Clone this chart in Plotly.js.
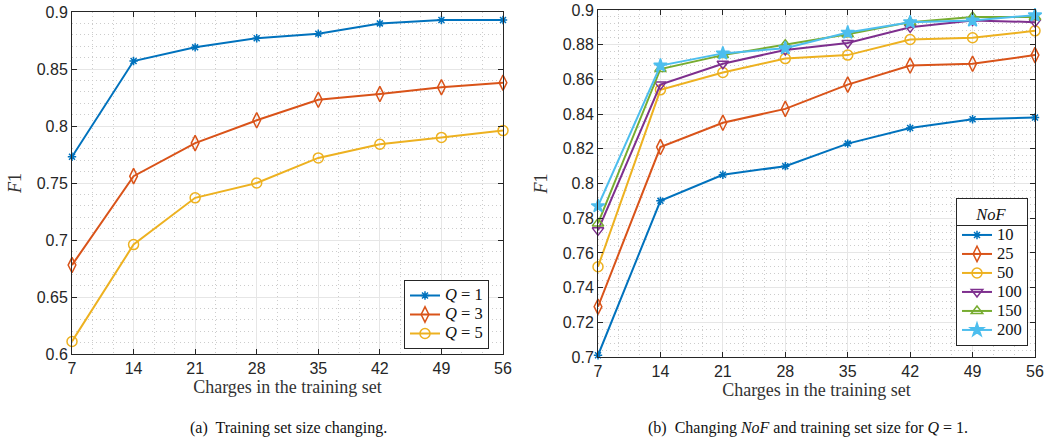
<!DOCTYPE html>
<html>
<head>
<meta charset="utf-8">
<script src="https://cdn.plot.ly/plotly-3.0.1.min.js"></script>
<style>
  html, body { margin: 0; padding: 0; background: #fff; }
  #chart { width: 1055px; height: 440px; }
</style>
</head>
<body>
<div id="chart"></div>
<script>
// ---- data ----
const charges = [7, 14, 21, 28, 35, 42, 49, 56];

// (a) training set size changing
const q1 = [0.773, 0.857, 0.869, 0.877, 0.881, 0.890, 0.893, 0.893];
const q3 = [0.678, 0.756, 0.785, 0.805, 0.823, 0.828, 0.834, 0.838];
const q5 = [0.611, 0.696, 0.737, 0.750, 0.772, 0.784, 0.790, 0.796];
const qLabels = ["<i>Q</i> = 1", "<i>Q</i> = 3", "<i>Q</i> = 5"];

// (b) changing NoF, Q = 1
const nof10  = [0.701, 0.790, 0.805, 0.810, 0.823, 0.832, 0.837, 0.838];
const nof25  = [0.729, 0.821, 0.835, 0.843, 0.857, 0.868, 0.869, 0.874];
const nof50  = [0.752, 0.854, 0.864, 0.872, 0.874, 0.883, 0.884, 0.888];
const nof100 = [0.773, 0.857, 0.869, 0.877, 0.881, 0.890, 0.894, 0.893];
const nof150 = [0.777, 0.866, 0.874, 0.880, 0.886, 0.893, 0.896, 0.896];
const nof200 = [0.787, 0.868, 0.875, 0.878, 0.887, 0.893, 0.894, 0.897];
const nofLabels = ["10", "25", "50", "100", "150", "200"];

const xTicks = ["7", "14", "21", "28", "35", "42", "49", "56"];

// ---- styling ----
const colors = ["#0072BD", "#D95319", "#EDB120", "#7E2F8E", "#77AC30", "#4DBEEE"];
const W = 1055, H = 440;
const serif = "Liberation Serif, DejaVu Serif, serif";
const sans = "Liberation Sans, Arial, sans-serif";
const dark = "#262626";
const big = s => '<span style="font-size:16.5px">' + s + '</span>';

function mk(sym, size, color) {
  return {symbol: sym, size: size, color: color, line: {color: color, width: 1.5}};
}
const markersA = [
  mk("asterisk-open", 7, colors[0]),
  mk("diamond-tall-open", 11, colors[1]),
  mk("circle-open", 10, colors[2])
];
const markersB = [
  mk("asterisk-open", 7, colors[0]),
  mk("diamond-tall-open", 11, colors[1]),
  mk("circle-open", 10, colors[2]),
  mk("triangle-down-open", 10, colors[3]),
  mk("triangle-up-open", 10, colors[4]),
  mk("star", 10, colors[5])
];

const traces = [];
[q1, q3, q5].forEach((ys, i) => {
  traces.push({x: charges, y: ys, name: big(qLabels[i]), type: "scatter", mode: "lines+markers",
    xaxis: "x", yaxis: "y", legend: "legend", cliponaxis: false,
    line: {color: colors[i], width: 2}, marker: markersA[i]});
});
[nof10, nof25, nof50, nof100, nof150, nof200].forEach((ys, i) => {
  traces.push({x: charges, y: ys, name: big(nofLabels[i]), type: "scatter", mode: "lines+markers",
    xaxis: "x2", yaxis: "y2", legend: "legend2", cliponaxis: false,
    line: {color: colors[i], width: 2}, marker: markersB[i]});
});

function px(x) { return x / W; }
function py(y) { return 1 - y / H; }

function xax(domain, anchor) {
  return {
    domain: domain, anchor: anchor, range: [7, 56], tickmode: "array",
    tickvals: charges, ticktext: xTicks,
    showline: true, linecolor: dark, linewidth: 1, mirror: "ticks",
    ticks: "inside", ticklen: 5, tickcolor: dark,
    showgrid: true, gridcolor: "#e6e6e6", gridwidth: 1, zeroline: false,
    tickfont: {family: sans, size: 16, color: dark},
    minor: {dtick: 7 / 3, tick0: 7, showgrid: true, gridcolor: "#cccccc", griddash: "1px,3px", gridwidth: 1},
    title: {text: "Charges in the training set", font: {family: serif, size: 18, color: "#333"}, standoff: 3}
  };
}
function yax(domain, anchor, range, dtick, minorDtick) {
  return {
    domain: domain, anchor: anchor, range: range, dtick: dtick, tick0: range[0],
    showline: true, linecolor: dark, linewidth: 1, mirror: "ticks",
    ticks: "inside", ticklen: 5, tickcolor: dark,
    showgrid: true, gridcolor: "#e6e6e6", gridwidth: 1, zeroline: false,
    tickfont: {family: sans, size: 16, color: dark},
    minor: {dtick: minorDtick, tick0: range[0], showgrid: true, gridcolor: "#cccccc", griddash: "1px,3px", gridwidth: 1},
    title: {text: "<i>F</i>1", font: {family: serif, size: 18, color: "#333"}, standoff: 10}
  };
}

const layout = {
  width: W, height: H,
  margin: {l: 0, r: 0, t: 0, b: 0},
  paper_bgcolor: "#fff", plot_bgcolor: "#fff",
  showlegend: true,
  xaxis: xax([px(72), px(503)], "y"),
  yaxis: yax([py(354), py(12)], "x", [0.6, 0.9], 0.05, 0.01),
  xaxis2: xax([px(598), px(1035)], "y2"),
  yaxis2: yax([py(357), py(10)], "x2", [0.7, 0.9], 0.02, 0.004),
  legend: {
    x: px(404), y: py(280), xanchor: "left", yanchor: "top",
    bgcolor: "#fff", bordercolor: dark, borderwidth: 1,
    font: {family: serif, size: 12, color: "#111"},
    tracegroupgap: 0, itemwidth: 30
  },
  legend2: {
    x: px(956), y: py(198), xanchor: "left", yanchor: "top",
    bgcolor: "#fff", bordercolor: dark, borderwidth: 1,
    font: {family: serif, size: 12, color: "#111"},
    title: {text: "<i>NoF</i>", side: "top center", font: {family: serif, size: 16.5, color: "#111"}},
    tracegroupgap: 0, itemwidth: 30
  },
  annotations: [
    {text: "(a)  Training set size changing.", xref: "paper", yref: "paper",
     x: px(288), y: py(428), xanchor: "center", yanchor: "middle", showarrow: false,
     font: {family: serif, size: 16, color: "#111"}},
    {text: "(b)  Changing <i>NoF</i> and training set size for <i>Q</i> = 1.", xref: "paper", yref: "paper",
     x: px(808), y: py(428), xanchor: "center", yanchor: "middle", showarrow: false,
     font: {family: serif, size: 16, color: "#111"}}
  ]
};

Plotly.newPlot("chart", traces, layout, {displayModeBar: false, staticPlot: true}).then(gd => {
  // separator line under the legend2 title (drawn inside the legend group so it sits above the legend bg)
  const leg = gd.querySelector("g.legend2");
  if (!leg) return;
  const bgEl = leg.querySelector("rect.bg");
  const title = leg.querySelector(".legend2titletext") || leg.querySelector("text[class*='titletext']");
  const item = leg.querySelector("g.traces");
  if (!bgEl || !title || !item) return;
  const ctm = leg.getScreenCTM();
  const bg = bgEl.getBoundingClientRect();
  const tb = title.getBoundingClientRect();
  const ib = item.getBoundingClientRect();
  const sy = (tb.bottom + ib.top) / 2;
  const ly = Math.round((sy - ctm.f) / ctm.d) + 0.5;
  const lx0 = (bg.left - ctm.e) / ctm.a, lx1 = (bg.right - ctm.e) / ctm.a;
  const ln = document.createElementNS("http://www.w3.org/2000/svg", "line");
  ln.setAttribute("x1", lx0); ln.setAttribute("x2", lx1);
  ln.setAttribute("y1", ly); ln.setAttribute("y2", ly);
  ln.setAttribute("stroke", dark); ln.setAttribute("stroke-width", "1");
  bgEl.parentNode.insertBefore(ln, bgEl.nextSibling);
});
</script>
</body>
</html>
